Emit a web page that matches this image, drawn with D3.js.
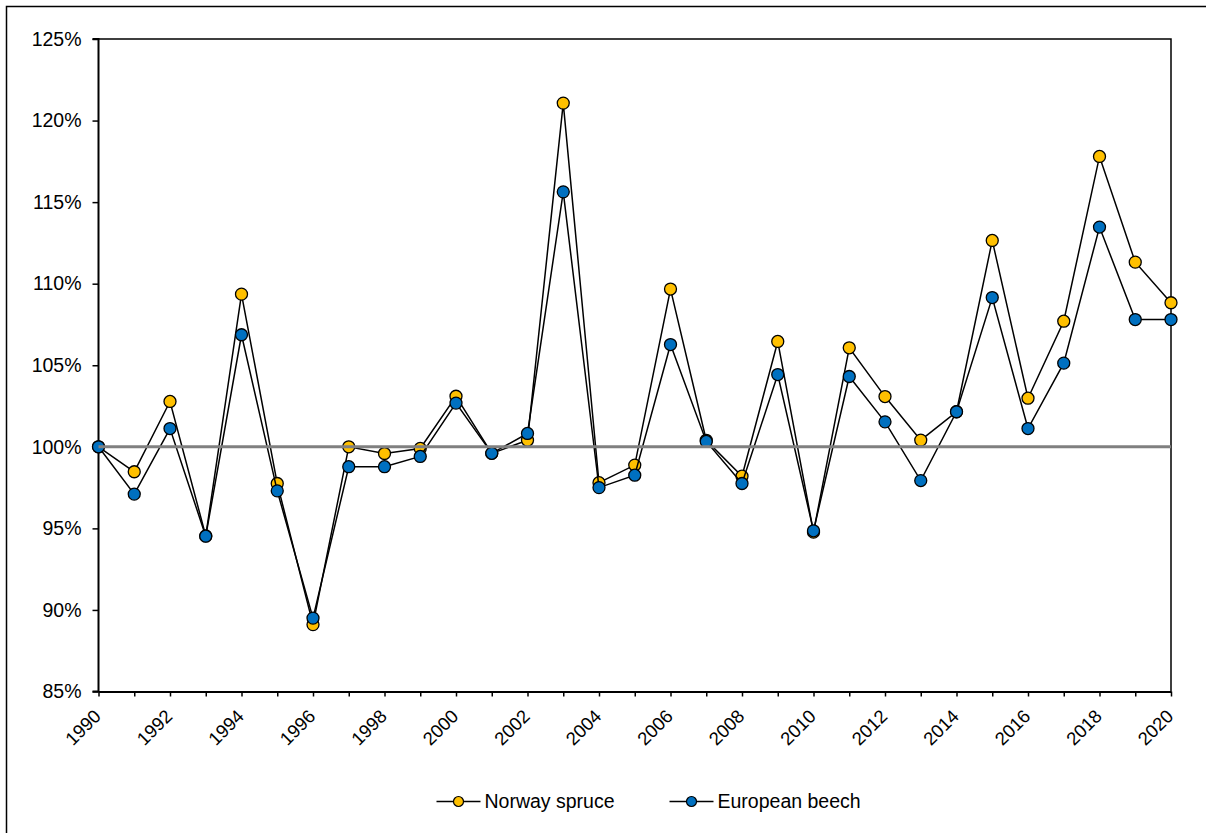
<!DOCTYPE html>
<html>
<head>
<meta charset="utf-8">
<script src="https://cdn.jsdelivr.net/npm/d3@7"></script>
<style>
  body { margin: 0; background: #fff; }
  svg { display: block; font-family: "Liberation Sans", Arial, sans-serif; }
</style>
</head>
<body>
<div id="chart"></div>
<script>
const years = d3.range(1990, 2021);
const spruce = [100, 98.47, 102.78, 94.54, 109.36, 97.75, 89.1, 100.0, 99.59, 99.9,
  103.1, 99.6, 100.4, 121.07, 97.8, 98.88, 109.67, 100.4, 98.2, 106.46,
  94.77, 106.07, 103.08, 100.41, 102.15, 112.65, 102.98, 107.7, 117.8, 111.32, 108.83];
const beech = [100, 97.1, 101.12, 94.52, 106.87, 97.3, 89.5, 98.78, 98.78, 99.41,
  102.68, 99.6, 100.82, 115.63, 97.5, 98.26, 106.27, 100.33, 97.75, 104.43,
  94.85, 104.31, 101.53, 97.93, 102.15, 109.15, 101.12, 105.13, 113.47, 107.8, 107.8];
const baseline = [100, 100];
const yTicks = [85, 90, 95, 100, 105, 110, 115, 120, 125];
const seriesNames = ['Norway spruce', 'European beech'];
const seriesColors = ['#FFC000', '#0070C0'];

const W = 1206, H = 833;
const plotLeft = 98.5, plotRight = 1171, plotTop = 39, plotBottom = 691.5;

const svg = d3.select('#chart').append('svg')
  .attr('width', W)
  .attr('height', H);

// outer frame
svg.append('rect')
  .attr('x', 6.5).attr('y', 6.5)
  .attr('width', W + 20).attr('height', H + 20)
  .attr('fill', 'none')
  .attr('stroke', '#000')
  .attr('stroke-width', 1.5);

const x = d3.scaleLinear().domain([1990, 2020]).range([plotLeft, plotRight]);
const y = d3.scaleLinear().domain([85, 125]).range([plotBottom, plotTop]);

// plot frame (top + right)
svg.append('path')
  .attr('d', `M${plotLeft},${plotTop}H${plotRight}V${plotBottom}`)
  .attr('fill', 'none')
  .attr('stroke', '#000')
  .attr('stroke-width', 1.5);

const yAxis = d3.axisLeft(y)
  .tickValues(yTicks)
  .tickFormat(d => d + '%')
  .tickSize(6)
  .tickPadding(11);

svg.append('g')
  .attr('transform', `translate(${plotLeft},0)`)
  .call(yAxis)
  .call(g => g.select('.domain').attr('stroke-width', 2).attr('d', `M-6,${plotBottom}H0V${plotTop}H-6`))
  .call(g => g.selectAll('.tick line').attr('stroke-width', 1.5))
  .call(g => g.selectAll('text')
    .attr('font-size', 19.5)
    .attr('font-family', '"Liberation Sans", Arial, sans-serif')
    .attr('fill', '#000'));

const xAxis = d3.axisBottom(x)
  .tickValues(years)
  .tickFormat(d => d % 2 === 0 ? d : '')
  .tickSize(5)
  .tickSizeOuter(0);

svg.append('g')
  .attr('transform', `translate(0,${plotBottom})`)
  .call(xAxis)
  .call(g => g.select('.domain').attr('stroke-width', 2))
  .call(g => g.selectAll('.tick line').attr('stroke-width', 1.5))
  .call(g => g.selectAll('text')
    .attr('font-size', 18.5)
    .attr('font-family', '"Liberation Sans", Arial, sans-serif')
    .attr('fill', '#000')
    .attr('text-anchor', 'end')
    .attr('x', 0).attr('y', 0).attr('dy', 0)
    .attr('transform', 'translate(3,26) rotate(-45)'));

const line = d3.line()
  .x((d, i) => x(years[i]))
  .y(d => y(d));

[spruce, beech].forEach((vals, k) => {
  svg.append('path')
    .attr('d', line(vals))
    .attr('fill', 'none')
    .attr('stroke', '#000')
    .attr('stroke-width', 1.5);

  svg.append('g')
    .selectAll('circle')
    .data(vals)
    .join('circle')
    .attr('cx', (d, i) => x(years[i]))
    .attr('cy', d => y(d))
    .attr('r', 6)
    .attr('fill', seriesColors[k])
    .attr('stroke', '#000')
    .attr('stroke-width', 1.3);
});

// 100% reference line
svg.append('path')
  .attr('d', d3.line().x((d, i) => x(i === 0 ? 1990 : 2020)).y(d => y(d))(baseline))
  .attr('stroke', '#808080')
  .attr('stroke-width', 3);

// legend
const legendX = [436.5, 669.5];
const legend = svg.append('g')
  .selectAll('g')
  .data(seriesNames)
  .join('g')
  .attr('transform', (d, i) => `translate(${legendX[i]},801.5)`);

legend.append('line')
  .attr('x1', 0).attr('x2', 44)
  .attr('stroke', '#000')
  .attr('stroke-width', 1.5);

legend.append('circle')
  .attr('cx', 22)
  .attr('r', 5)
  .attr('fill', (d, i) => seriesColors[i])
  .attr('stroke', '#000')
  .attr('stroke-width', 1.2);

legend.append('text')
  .attr('x', 48)
  .attr('dy', '0.35em')
  .attr('font-size', 19.5)
  .attr('fill', '#000')
  .text(d => d);
</script>
</body>
</html>
